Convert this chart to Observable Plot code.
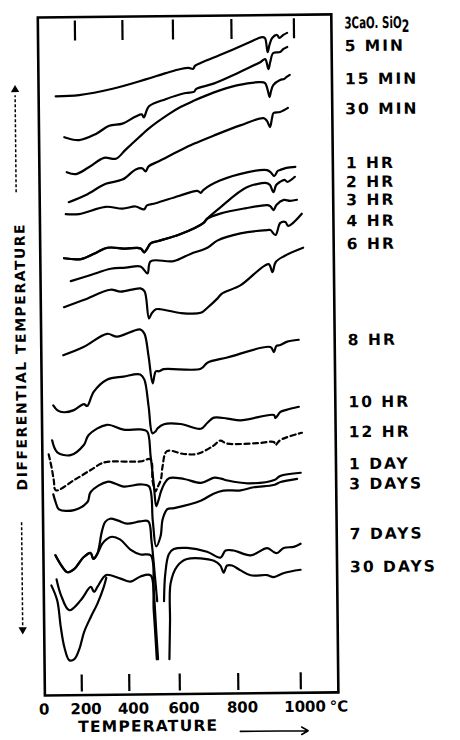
<!DOCTYPE html>
<html>
<head>
<meta charset="utf-8">
<script src="https://cdn.jsdelivr.net/npm/d3@7"></script>
<script src="https://cdn.jsdelivr.net/npm/@observablehq/plot@0.6"></script>
<style>
  html, body { margin: 0; padding: 0; background: #fff; overflow: hidden; }
  #chart svg { display: block; transform: rotate(-0.6deg); transform-origin: 230px 370px; }
</style>
</head>
<body>
<div id="chart"></div>
<script>
// Temperature axis (°C): labelled values and tick marks
const tempLabels = [0, 200, 400, 600, 800, 1000];
const tempTicks = [200, 400, 600, 800, 1000];

// DTA curves: [temperature °C, differential temperature (arbitrary units)]
const c3s   = [[105,599],[215,600],[356,606],[490,615],[570,621],[625,625],[652,626],[668,625],[674,628],[695,631],[772,640],[850,650],[898,656],[907,655],[915,641],[921,648],[930,655],[946,658],[953,655],[966,658],[978,660]];
const min5  = [[144,558],[213,555],[284,561],[340,569],[396,571],[449,578],[473,580],[481,577],[502,588],[568,595],[641,601],[669,602],[678,605],[737,610],[816,620],[891,631],[907,634],[917,624],[923,631],[933,640],[955,641],[966,644],[978,646]];
const min15 = [[154,523],[198,521],[254,528],[317,537],[367,536],[408,545],[474,560],[501,566],[580,580],[623,587],[668,593],[736,601],[815,608],[890,611],[906,610],[914,603],[920,596],[924,601],[932,608],[954,613],[967,614],[975,616],[985,618]];
const min30 = [[162,493],[239,500],[323,511],[393,515],[447,525],[473,526],[486,523],[498,528],[539,533],[616,543],[667,550],[735,558],[825,568],[900,575],[911,572],[920,566],[927,575],[932,580],[953,581],[978,585]];
const hr1   = [[147,481],[209,481],[322,488],[392,486],[445,488],[478,485],[490,489],[524,491],[614,498],[678,503],[689,501],[699,504],[755,513],[845,521],[909,523],[920,521],[932,517],[943,522],[951,523],[971,525],[1000,526]];
const hr2   = [[137,437],[215,436],[278,442],[327,447],[404,446],[463,446],[477,442],[487,445],[503,451],[530,453],[619,460],[698,471],[710,475],[755,486],[844,506],[908,510],[918,508],[929,501],[938,508],[950,511],[965,513],[974,511],[998,516]];
const hr3   = [[137,437],[215,436],[278,442],[327,447],[404,446],[463,446],[477,442],[487,445],[503,451],[530,453],[619,460],[698,471],[710,475],[755,480],[838,485],[908,488],[918,487],[929,483],[938,488],[962,493],[982,492],[1004,493]];
const hr4   = [[168,414],[256,420],[340,426],[403,427],[462,428],[489,421],[502,433],[593,433],[652,440],[710,446],[744,453],[822,460],[908,463],[918,463],[934,458],[950,470],[966,471],[975,467],[1019,479]];
const hr6   = [[134,388],[224,395],[338,405],[381,403],[461,406],[477,403],[493,376],[504,381],[521,385],[540,385],[616,381],[685,381],[708,386],[742,395],[758,400],[820,408],[911,429],[923,421],[934,431],[962,437],[1022,445]];
const hr8   = [[128,340],[222,348],[322,361],[364,358],[457,365],[474,361],[490,338],[505,311],[518,323],[531,323],[549,325],[683,325],[706,331],[774,336],[914,346],[925,341],[933,347],[946,348],[966,351],[1005,353]];
const hr10  = [[78,290],[98,285],[128,283],[176,285],[221,291],[235,289],[263,303],[319,315],[389,318],[456,320],[472,315],[488,288],[502,261],[515,263],[523,266],[548,270],[612,270],[681,265],[704,271],[726,276],[772,275],[816,273],[923,278],[928,275],[944,281],[963,283],[1003,286]];
const hr12  = [[54,241],[67,228],[77,215],[86,205],[173,215],[247,225],[289,231],[317,233],[454,233],[493,235],[501,213],[512,203],[520,207],[534,215],[541,228],[559,243],[622,240],[668,240],[724,248],[747,253],[770,250],[868,250],[922,251],[927,248],[943,253],[1012,260]];
const day1  = [[71,255],[95,243],[158,240],[219,250],[240,260],[317,270],[387,265],[454,265],[481,263],[494,238],[506,208],[514,188],[522,193],[534,203],[546,210],[566,216],[622,215],[680,211],[725,216],[748,215],[771,213],[837,210],[922,213],[941,217],[1007,220]];
const days3 = [[74,201],[85,193],[100,186],[172,185],[232,193],[246,203],[316,213],[351,211],[386,208],[453,210],[486,208],[500,173],[512,148],[530,158],[539,175],[558,185],[585,186],[678,193],[722,200],[756,203],[814,203],[856,206],[920,208],[942,211],[995,214]];
const days7a = [[81,140],[105,131],[137,123],[169,126],[214,138],[243,142],[254,136],[271,141],[279,148],[291,163],[306,173],[327,176],[361,174],[398,171],[450,173],[482,173],[494,153],[506,118],[514,93]];
const days7b = [[81,140],[105,131],[137,123],[169,126],[214,138],[243,142],[254,136],[271,141],[292,151],[313,156],[334,158],[369,155],[410,145],[450,140],[490,139],[501,103],[509,63],[515,35]];
const days7c = [[541,93],[547,120],[562,140],[582,145],[630,146],[698,142],[744,136],[761,143],[789,143],[844,138],[897,145],[918,141],[929,140],[950,145],[982,146],[1004,149]];
const days30a = [[85,116],[104,101],[144,85],[200,95],[242,108],[256,103],[270,108],[298,118],[311,120],[368,116],[410,113],[449,118],[489,119],[500,83],[510,35]];
const days30b = [[60,110],[87,95],[103,68],[119,48],[142,35],[166,36],[190,46],[212,63],[241,78],[269,91],[297,108],[308,117]];
const days30c = [[560,35],[564,73],[568,111],[595,128],[629,135],[721,133],[743,128],[754,121],[766,128],[783,128],[811,123],[843,118],[896,118],[917,116],[950,120],[1003,123]];

// Curve labels (right side) and their levels
const labelNames  = ["3CaO. SiO2","5 MIN","15 MIN","30 MIN","1 HR","2 HR","3 HR","4 HR","6 HR","8 HR","10 HR","12 HR","1 DAY","3 DAYS","7 DAYS","30 DAYS"];
const labelLevels = [669,646,613,583,529,510,492,471,448,352,290,260,228,208,158,125];

const solidSeries = [
  ["3CaO.SiO2", c3s], ["5 MIN", min5], ["15 MIN", min15], ["30 MIN", min30],
  ["1 HR", hr1], ["2 HR", hr2], ["3 HR", hr3], ["4 HR", hr4], ["6 HR", hr6],
  ["8 HR", hr8], ["10 HR", hr10], ["1 DAY", day1], ["3 DAYS", days3],
  ["7 DAYS a", days7a], ["7 DAYS b", days7b], ["7 DAYS c", days7c],
  ["30 DAYS a", days30a], ["30 DAYS b", days30b], ["30 DAYS c", days30c]
];
const solidRows = solidSeries.flatMap(([name, pts]) => pts.map(([t, v]) => ({name, t, v})));
const dashedRows = hr12.map(([t, v]) => ({name: "12 HR", t, v}));

// The instrument's temperature axis is not linear: warp it piecewise through the tick positions
const tempWarp = d3.scaleLinear().domain(tempLabels).range([36, 78, 125.5, 176, 234.5, 297]);

const plot = Plot.plot({
  width: 460,
  height: 740,
  marginLeft: 41,
  marginRight: 125.5,
  marginTop: 15,
  marginBottom: 47,
  style: {fontFamily: "'DejaVu Sans', sans-serif", fontSize: "15px", fontWeight: "bold", color: "black", background: "white"},
  x: {type: "linear", transform: tempWarp, domain: [36, 297], range: [36, 297], label: null},
  y: {domain: [0, 678], axis: null, label: null},
  marks: [
    Plot.frame({stroke: "black", strokeWidth: 2.6}),
    Plot.axisX(tempTicks, {anchor: "bottom", tickSize: -17, dy: -3, tickFormat: () => "", strokeWidth: 2.2, label: null}),
    Plot.axisX(tempTicks, {anchor: "top", tickSize: -20, dy: 3, tickFormat: () => "", strokeWidth: 2.2, label: null}),
    Plot.line(solidRows, {x: "t", y: "v", z: "name", curve: "catmull-rom", stroke: "black", strokeWidth: 2.2, strokeLinejoin: "round", strokeLinecap: "round"}),
    Plot.line(dashedRows, {x: "t", y: "v", z: "name", curve: "catmull-rom", stroke: "black", strokeWidth: 2.2, strokeDasharray: "5,3.5"}),
    Plot.text(labelNames, {y: (d, i) => labelLevels[i], frameAnchor: "right", dx: 13, textAnchor: "start", fontSize: 15.5, fontWeight: "bold", fill: "black", ariaDescription: "curve labels"}),
    Plot.text(tempLabels, {x: d => d, text: d => String(d), frameAnchor: "bottom", dy: 19, dx: 4, textAnchor: "middle", fontSize: 15, fontWeight: "bold", fill: "black", ariaDescription: "tick labels"}),
    Plot.text(["°C"], {x: () => 1000, frameAnchor: "bottom", dy: 19, dx: 38, textAnchor: "middle", fontSize: 15, fontWeight: "bold", fill: "black", ariaDescription: "tick labels"}),
    Plot.text(["TEMPERATURE"], {frameAnchor: "bottom-left", dx: 103, dy: 37, textAnchor: "middle", fontSize: 15.5, fontWeight: "bold", fill: "black", ariaDescription: "axis title"}),
    Plot.arrow([0], {x1: 805, x2: 1022, y1: -38, y2: -38, stroke: "black", strokeWidth: 1.6, headLength: 7}),
    Plot.text(["DIFFERENTIAL TEMPERATURE"], {frameAnchor: "left", dx: -20, rotate: -90, textAnchor: "middle", fontSize: 14, fontWeight: "bold", fill: "black", ariaDescription: "y title"}),
    Plot.ruleX([0], {y1: 503, y2: 600, dx: -18.5, stroke: "black", strokeWidth: 1.5, strokeDasharray: "3,2"}),
    Plot.dot([0], {x: d => d, y: 606, dx: -18.5, symbol: "triangle2", r: 4, fill: "black", stroke: "none"}),
    Plot.ruleX([0], {y1: 173, y2: 70, dx: -16.5, stroke: "black", strokeWidth: 1.5, strokeDasharray: "3,2"}),
    Plot.dot([0], {x: d => d, y: 66, dx: -16.5, symbol: "triangle2", rotate: 180, r: 4, fill: "black", stroke: "none"})
  ]
});

const svg = d3.select(plot);
svg.selectAll('g[aria-description="curve labels"] text').style("letter-spacing", "2px");
svg.selectAll('g[aria-description="axis title"] text').style("letter-spacing", "1.2px");
svg.selectAll('g[aria-description="y title"] text').style("letter-spacing", "1.5px");
svg.selectAll("text").filter(function() { return this.textContent === "3CaO. SiO2"; }).each(function() {
  this.textContent = "3CaO. SiO";
  d3.select(this).attr("font-size", 16).style("letter-spacing", "0px");
  d3.select(this).append("tspan").attr("dy", "0.25em").attr("font-size", "17px").text("2");
  this.setAttribute("textLength", "65");
  this.setAttribute("lengthAdjust", "spacingAndGlyphs");
});
document.getElementById("chart").appendChild(plot);
</script>
</body>
</html>
